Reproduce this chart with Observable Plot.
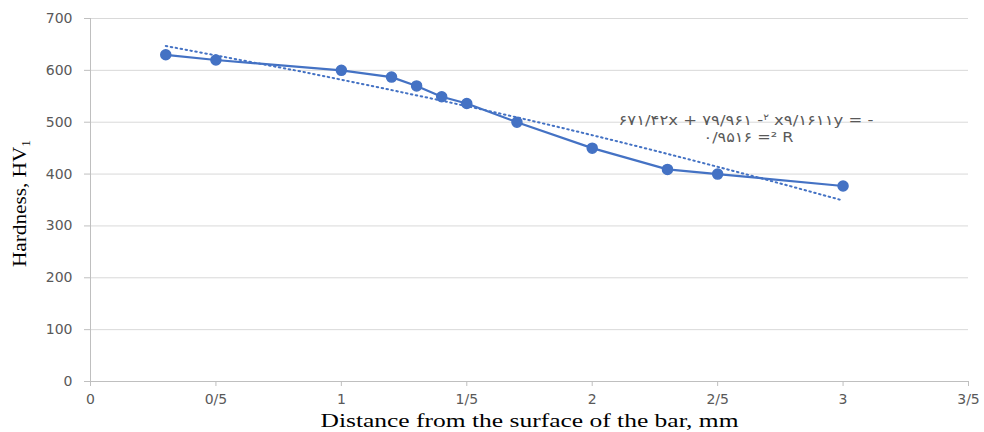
<!DOCTYPE html>
<html>
<head>
<meta charset="utf-8">
<script src="https://cdn.jsdelivr.net/npm/d3@7"></script>
<script src="https://cdn.jsdelivr.net/npm/@observablehq/plot@0.6"></script>
<style>
  html, body { margin: 0; padding: 0; background: white; }
</style>
</head>
<body>
<div id="chart"></div>
<script>
// Measured data
const distance = [0.3, 0.5, 1.0, 1.2, 1.3, 1.4, 1.5, 1.7, 2.0, 2.3, 2.5, 3.0];
const hardness = [630, 620, 600, 587, 570, 549, 536, 500, 450, 409, 400, 377];
// Polynomial trendline (dotted)
const trendDistance = [0.3, 0.75, 1.0, 1.5, 2.0, 2.5, 3.0];
const trendHardness = [647, 606, 582, 531, 475, 414, 349];
// Ticks
const xTicks = [0, 0.5, 1, 1.5, 2, 2.5, 3, 3.5];
const yTicks = [0, 100, 200, 300, 400, 500, 600, 700];
// Texts
const eqLine1a = "۶۷۱/۴۲x + ۷۹/۹۶۱ -";
const eqLine1sup = "۲";
const eqLine1b = " x۹/۱۶۱۱y = -";
const eqLine2 = "۰/۹۵۱۶ =² R";
const xTitle = "Distance from the surface of the bar, mm";
const yTitle = "Hardness, HV";
const yTitleSub = "1";

const data = distance.map((d, i) => ({x: d, y: hardness[i]}));
const trend = trendDistance.map((d, i) => ({x: d, y: trendHardness[i]}));
const blue = "#4472C4";
const axisGray = "#bfbfbf";
const textGray = "#595959";

const chart = Plot.plot({
  width: 984,
  height: 432,
  marginLeft: 90,
  marginRight: 16,
  marginTop: 18,
  marginBottom: 51,
  x: {domain: [0, 3.5]},
  y: {domain: [0, 700]},
  style: {fontFamily: "DejaVu Sans", fontSize: "14px", color: textGray, background: "white", overflow: "visible"},
  marks: [
    Plot.gridY(yTicks, {stroke: "#d9d9d9", strokeOpacity: 1, strokeWidth: 1}),
    Plot.axisY(yTicks, {tickSize: 6, tickPadding: 12, stroke: axisGray, strokeOpacity: 1, fill: textGray, label: null, fontSize: 14}),
    Plot.axisX(xTicks, {tickSize: 5, tickPadding: 8, stroke: axisGray, strokeOpacity: 1, fill: textGray, label: null, fontSize: 14,
      tickFormat: d => String(d).replace(".", "/")}),
    Plot.ruleX([0], {stroke: axisGray}),
    Plot.ruleY([0], {stroke: axisGray}),
    Plot.line(trend, {x: "x", y: "y", curve: "natural", stroke: blue, strokeWidth: 2, strokeDasharray: "1.5,3.5"}),
    Plot.line(data, {x: "x", y: "y", stroke: blue, strokeWidth: 2.2}),
    Plot.dot(data, {x: "x", y: "y", r: 5, fill: blue, stroke: blue}),
    Plot.text([eqLine1a], {x: 2.613, y: 495, text: d => d, lineAnchor: "bottom", fill: textGray, fontSize: 14, fontFamily: "DejaVu Sans"}),
    Plot.text([eqLine2], {x: 2.623, y: 461, text: d => d, lineAnchor: "bottom", fill: textGray, fontSize: 14, fontFamily: "DejaVu Sans"}),
    Plot.text([yTitle], {frameAnchor: "left", textAnchor: "middle", lineAnchor: "bottom", dx: -65, dy: 3.5, rotate: -90, text: d => d, fill: "black", fontSize: 19, fontFamily: "Liberation Serif"}),
    Plot.text([xTitle], {frameAnchor: "bottom", textAnchor: "middle", lineAnchor: "bottom", dy: 45, text: d => d, fill: "black", fontSize: 19, fontFamily: "Liberation Serif"})
  ]
});

const svg = d3.select(chart);
svg.selectAll("text").each(function() {
  const t = d3.select(this);
  const s = this.textContent;
  if (s === eqLine1a) {
    t.text("");
    t.attr("style", "unicode-bidi: bidi-override; direction: ltr;");
    t.attr("textLength", 255).attr("lengthAdjust", "spacingAndGlyphs");
    t.append("tspan").text(eqLine1a);
    t.append("tspan").attr("font-size", 9).attr("dy", -5).text(eqLine1sup);
    t.append("tspan").attr("dy", 5).text(eqLine1b);
  } else if (s === eqLine2) {
    t.attr("style", "unicode-bidi: bidi-override; direction: ltr;");
    t.attr("textLength", 90).attr("lengthAdjust", "spacingAndGlyphs");
  } else if (s === yTitle) {
    t.append("tspan").attr("font-size", 12).attr("dy", 4).text(yTitleSub);
    t.attr("textLength", 127).attr("lengthAdjust", "spacingAndGlyphs");
  } else if (s === xTitle) {
    t.attr("textLength", 418).attr("lengthAdjust", "spacingAndGlyphs");
  }
});

document.getElementById("chart").appendChild(chart);
</script>
</body>
</html>
